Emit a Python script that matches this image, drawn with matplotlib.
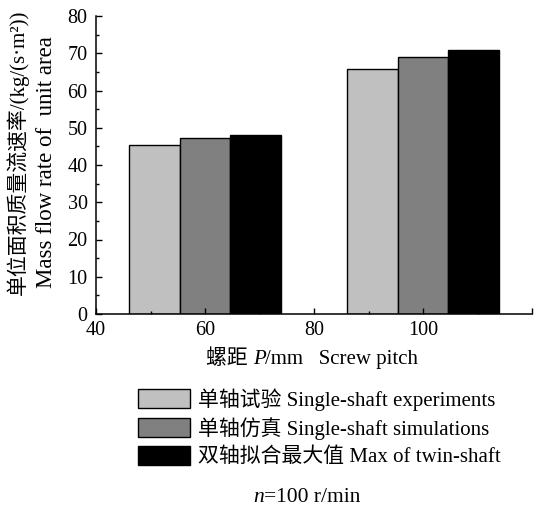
import matplotlib
matplotlib.use("Agg")
import matplotlib.pyplot as plt
from matplotlib.offsetbox import TextArea, HPacker, AnchoredOffsetbox
import numpy as np

# data
pitch = [60, 100]
single_exp = [45.4, 65.9]
single_sim = [47.2, 68.9]
twin_max = [48.0, 71.0]
series_labels = ["单轴试验 Single-shaft experiments",
                 "单轴仿真 Single-shaft simulations",
                 "双轴拟合最大值 Max of twin-shaft"]
colors = ["#c0c0c0", "#808080", "#000000"]

plt.rcParams['font.family'] = ['Liberation Serif', 'Noto Sans CJK SC']
plt.rcParams['font.size'] = 11

W, H = 542, 507
fig = plt.figure(figsize=(W / 100, H / 100), dpi=100)
ax = fig.add_axes([96 / W, 1 - 314 / H, (532 - 96) / W, (314 - 16) / H])

bw = 28 / 3
x = np.array(pitch, dtype=float)
for k, vals in enumerate([single_exp, single_sim, twin_max]):
    ax.bar(x + (k - 1) * bw, vals, width=bw, color=colors[k],
           edgecolor='black', linewidth=1.0, label=series_labels[k])

ax.set_xlim(40, 120)
ax.set_ylim(0, 80)
ax.set_xticks([40, 60, 80, 100, 120])
ax.set_xticklabels(['40', '60', '80', '100', ''])
ax.set_xticks([50, 70, 90, 110], minor=True)
ax.set_yticks(range(0, 81, 10))
ax.set_yticks(range(5, 80, 10), minor=True)
ax.tick_params(which='both', direction='in', width=1.0, labelsize=14.5)
ax.tick_params(which='major', length=4)
ax.tick_params(which='minor', length=2.5)
ax.tick_params(axis='x', pad=5)
ax.tick_params(axis='y', pad=6)
for s in ['top', 'right']:
    ax.spines[s].set_visible(False)
for s in ['left', 'bottom']:
    ax.spines[s].set_linewidth(1.1)

# y label, two lines
fig.text(18 / W, 1 - 152 / H, "单位面积质量流速率/(kg/(s·m²))", rotation=90,
         ha='center', va='center', fontsize=15)
fig.text(47 / W, 1 - 162 / H, "Mass flow rate of  unit area", rotation=90,
         ha='center', va='center', fontsize=16.5)


def mixed_text(pieces, xy, size):
    boxes = [TextArea(t, textprops=dict(fontsize=size, fontstyle=st))
             for t, st in pieces]
    pack = HPacker(children=boxes, align='baseline', pad=0, sep=0)
    anc = AnchoredOffsetbox(loc='center', child=pack, pad=0, frameon=False,
                            bbox_to_anchor=(xy[0] / W, 1 - xy[1] / H),
                            bbox_transform=fig.transFigure, borderpad=0)
    fig.add_artist(anc)


mixed_text([("螺距 ", 'normal'), ("P", 'italic'), ("/mm   Screw pitch", 'normal')],
           (312, 359), 15)
mixed_text([("n", 'italic'), ("=100 r/min", 'normal')], (307, 497), 15.5)

fig.legend(loc='upper left', bbox_to_anchor=(138 / W, 1 - 388 / H),
           frameon=False, fontsize=15, handlelength=2.5, handleheight=1.0,
           handletextpad=0.38, labelspacing=0.3, borderpad=0, borderaxespad=0)

fig.savefig("out.png", dpi=100)
